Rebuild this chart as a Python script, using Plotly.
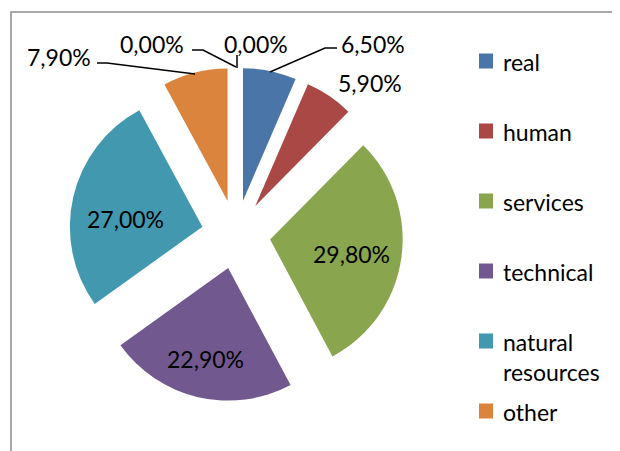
import plotly.graph_objects as go

categories = ["real", "human", "services", "technical", "natural resources", "other"]
values = [6.5, 5.9, 29.8, 22.9, 27.0, 7.9]
zero_values = [0.0, 0.0]
colors = ["#4A75A9", "#AA4845", "#89A54E", "#71588F", "#4198AF", "#DB843D"]

W, H = 620, 451
OFF = 8  # page body margin
FONT = "Lato"
FS = 23

def px(x):
    return (x - OFF) / W

def py(y):
    return 1 - (y - OFF) / H

def fmt(v):
    return f"{v:.2f}%".replace(".", ",")

# pie box (pixels): centre (236, 234.5), half-size 167
cx, cy, half = 236, 234.5, 167
fig = go.Figure(go.Pie(
    labels=categories, values=values, sort=False, direction="clockwise",
    rotation=0, pull=[0.26] * len(values),
    marker=dict(colors=colors, line=dict(width=0)),
    textinfo="none",
    domain=dict(x=[px(cx - half), px(cx + half)], y=[py(cy + half), py(cy - half)]),
    showlegend=False, hoverinfo="label+percent",
))

shapes = []
annotations = []

# frame
shapes.append(dict(type="rect", xref="paper", yref="paper",
                   x0=px(11), x1=px(660), y0=py(480), y1=py(12),
                   line=dict(color="#8C8C8C", width=1.5)))

# data labels: (text, label centre in px, optional leader line)
data_labels = [
    (fmt(values[0]), (373, 44), [(270, 72), (325, 48), (337, 48)]),
    (fmt(values[1]), (370, 83), None),
    (fmt(values[2]), (351, 254), None),
    (fmt(values[3]), (205, 359), None),
    (fmt(values[4]), (125.5, 219), None),
    (fmt(values[5]), (59, 57), [(97, 63), (107, 63), (195, 74)]),
    (fmt(zero_values[0]), (152, 44), [(192, 50), (203, 50), (236, 67)]),
    (fmt(zero_values[1]), (256, 44), [(237, 55), (237, 68)]),
]
for txt, (tx, ty), line in data_labels:
    annotations.append(dict(text=txt, x=px(tx), y=py(ty), xref="paper", yref="paper",
                            xanchor="center", yanchor="middle", showarrow=False,
                            font=dict(family=FONT, size=FS, color="black")))
    if line:
        path = "M " + " L ".join(f"{px(a)},{py(b)}" for a, b in line)
        shapes.append(dict(type="path", xref="paper", yref="paper", path=path,
                           line=dict(color="black", width=1.5)))

# legend
leg_x, leg_y0, leg_dy = 479, 61, 70
for i, (cat, col) in enumerate(zip(categories, colors)):
    yc = leg_y0 + i * leg_dy
    shapes.append(dict(type="rect", xref="paper", yref="paper",
                       x0=px(leg_x), x1=px(leg_x + 14), y0=py(yc + 7.5), y1=py(yc - 7.5),
                       fillcolor=col, line=dict(width=0)))
    lab = cat.replace(" ", "<br>") if len(cat) > 10 else cat
    annotations.append(dict(text=lab, x=px(leg_x + 22), y=py(yc - 15), xref="paper", yref="paper",
                            xanchor="left", yanchor="top", align="left", showarrow=False,
                            font=dict(family=FONT, size=FS, color="black")))

fig.update_layout(width=W, height=H, margin=dict(l=0, r=0, t=0, b=0),
                  paper_bgcolor="white", plot_bgcolor="white",
                  shapes=shapes, annotations=annotations)
fig.write_html("out.html")
